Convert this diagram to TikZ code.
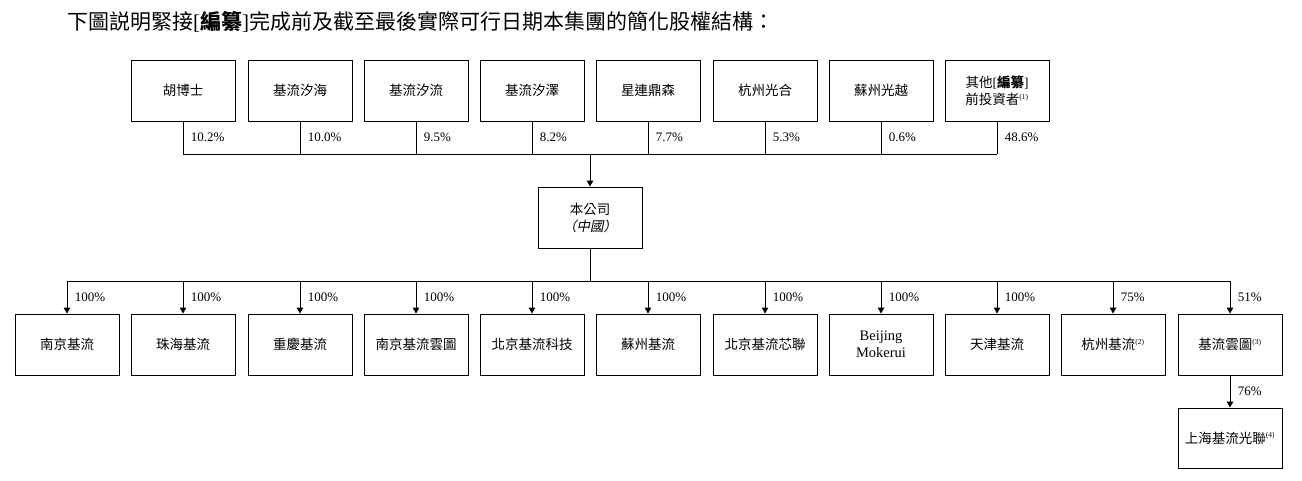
\documentclass[tikz,border=0pt]{standalone}
\usepackage{fontspec}
\setmainfont{Liberation Serif}
\newfontfamily\cjk{Noto Sans CJK TC}
\newfontfamily\cjkit{Noto Sans CJK TC}[FakeSlant=0.2]
\usetikzlibrary{arrows.meta}
\begin{document}
\begin{tikzpicture}[x=1pt,y=-1pt,
  box/.style={draw,line width=0.9pt,minimum width=104pt,minimum height=61pt,inner sep=1pt,align=center,font=\fontsize{13.5}{17}\selectfont},
  ln/.style={line width=0.9pt},
  arr/.style={line width=0.9pt,-{Triangle[width=6.5pt,length=6pt]}},
  pct/.style={right,inner sep=2pt,xshift=5.5pt,font=\fontsize{13}{15}\selectfont}]
\useasboundingbox (0,0) rectangle (1302,480);
\node[anchor=west,inner sep=0,font=\fontsize{21}{24}\selectfont] (title) at (67,22)
  {{\cjk 下圖説明緊接}[{\cjk\bfseries 編纂}]{\cjk 完成前及截至最後實際可行日期本集團的簡化股權結構：}};
% top shareholders
\node[box] (t1) at (183,90.5) {\cjk 胡博士};
\node[box] (t2) at (300,90.5) {\cjk 基流汐海};
\node[box] (t3) at (416,90.5) {\cjk 基流汐流};
\node[box] (t4) at (532,90.5) {\cjk 基流汐澤};
\node[box] (t5) at (648,90.5) {\cjk 星連鼎森};
\node[box] (t6) at (765,90.5) {\cjk 杭州光合};
\node[box] (t7) at (881,90.5) {\cjk 蘇州光越};
\node[box] (t8) at (997,90.5) {{\cjk 其他}[{\cjk\bfseries 編纂}]\\{\cjk 前投資者}\textsuperscript{\fontsize{7.5}{8}\selectfont(1)}};
\coordinate (bus1) at (590,154);
\node[box,minimum height=61pt] (co) at (590,217.5) {{\cjk 本公司}\\{\cjkit （中國）}};
\coordinate (bus2) at (590,281);
% bottom subsidiaries
\node[box] (b1) at (67,344.5) {\cjk 南京基流};
\node[box] (b2) at (183,344.5) {\cjk 珠海基流};
\node[box] (b3) at (300,344.5) {\cjk 重慶基流};
\node[box] (b4) at (416,344.5) {\cjk 南京基流雲圖};
\node[box] (b5) at (532,344.5) {\cjk 北京基流科技};
\node[box] (b6) at (648,344.5) {\cjk 蘇州基流};
\node[box] (b7) at (765,344.5) {\cjk 北京基流芯聯};
\node[box,font=\fontsize{14.5}{17}\selectfont] (b8) at (881,344.5) {Beijing\\Mokerui};
\node[box] (b9) at (997,344.5) {\cjk 天津基流};
\node[box] (b10) at (1113,344.5) {{\cjk 杭州基流}\textsuperscript{\fontsize{7.5}{8}\selectfont(2)}};
\node[box] (b11) at (1230,344.5) {{\cjk 基流雲圖}\textsuperscript{\fontsize{7.5}{8}\selectfont(3)}};
\node[box,minimum height=60pt] (s1) at (1230,438) {{\cjk 上海基流光聯}\textsuperscript{\fontsize{7.5}{8}\selectfont(4)}};
% top connectors
\draw[ln] (t1.south) -- node[pct]{10.2\%} (t1.south |- bus1);
\draw[ln] (t2.south) -- node[pct]{10.0\%} (t2.south |- bus1);
\draw[ln] (t3.south) -- node[pct]{9.5\%} (t3.south |- bus1);
\draw[ln] (t4.south) -- node[pct]{8.2\%} (t4.south |- bus1);
\draw[ln] (t5.south) -- node[pct]{7.7\%} (t5.south |- bus1);
\draw[ln] (t6.south) -- node[pct]{5.3\%} (t6.south |- bus1);
\draw[ln] (t7.south) -- node[pct]{0.6\%} (t7.south |- bus1);
\draw[ln] (t8.south) -- node[pct]{48.6\%} (t8.south |- bus1);
\draw[ln] (t1.south |- bus1) -- (t8.south |- bus1);
\draw[arr] (bus1) -- (co.north);
\draw[ln] (co.south) -- (bus2);
\draw[ln] (b1.north |- bus2) -- (b11.north |- bus2);
% bottom connectors
\draw[arr] (b1.north |- bus2) -- node[pct]{100\%} (b1.north);
\draw[arr] (b2.north |- bus2) -- node[pct]{100\%} (b2.north);
\draw[arr] (b3.north |- bus2) -- node[pct]{100\%} (b3.north);
\draw[arr] (b4.north |- bus2) -- node[pct]{100\%} (b4.north);
\draw[arr] (b5.north |- bus2) -- node[pct]{100\%} (b5.north);
\draw[arr] (b6.north |- bus2) -- node[pct]{100\%} (b6.north);
\draw[arr] (b7.north |- bus2) -- node[pct]{100\%} (b7.north);
\draw[arr] (b8.north |- bus2) -- node[pct]{100\%} (b8.north);
\draw[arr] (b9.north |- bus2) -- node[pct]{100\%} (b9.north);
\draw[arr] (b10.north |- bus2) -- node[pct]{75\%} (b10.north);
\draw[arr] (b11.north |- bus2) -- node[pct]{51\%} (b11.north);
\draw[arr] (b11.south) -- node[pct]{76\%} (s1.north);
\end{tikzpicture}
\end{document}
